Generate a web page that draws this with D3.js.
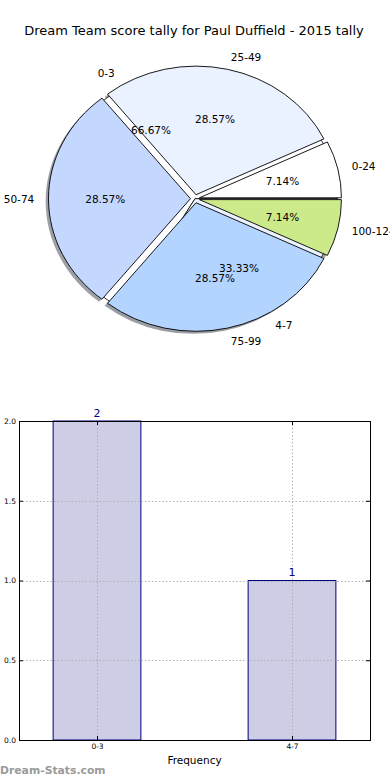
<!DOCTYPE html>
<html>
<head>
<meta charset="utf-8">
<script src="https://d3js.org/d3.v7.min.js"></script>
<style>
    body { margin: 0; background: #fff; }
    svg { display: block; font-family: "DejaVu Sans", sans-serif; }
</style>
</head>
<body>
<svg id="chart" width="390" height="780"></svg>
<script>
// ── data ──────────────────────────────────────────────────────────────
const chartTitle = 'Dream Team score tally for Paul Duffield - 2015 tally';

const scoreBands = ['0-24', '25-49', '50-74', '75-99', '100-124'];
const scoreCounts = [1, 4, 4, 4, 1];
const scoreColors = ['#ffffff', '#eaf1ff', '#c4d8ff', '#b3d4ff', '#cdea8a'];

const freqBands = ['0-3', '4-7'];
const freqCounts = [2, 1];
const freqColors = ['#ffffff', '#eaf1ff'];

const yTicks = [0, 0.5, 1.0, 1.5, 2.0];

// ── layout ────────────────────────────────────────────────────────────
const pieBox = { cx: 195, cy: 198.7, rx: 142, ry: 128.6 };
const explode = 0.032;
const barBox = { left: 19, right: 370, top: 421, bottom: 740 };

const svg = d3.select('#chart');

svg.append('text')
    .attr('x', 194)
    .attr('y', 30)
    .attr('text-anchor', 'middle')
    .attr('dominant-baseline', 'central')
    .attr('font-size', '13px')
    .attr('fill', '#000')
    .text(chartTitle);

// ── pies (elliptical, matplotlib style: ccw from east) ────────────────
const pie = d3.pie().sort(null)
    .startAngle(Math.PI / 2)
    .endAngle(Math.PI / 2 - 2 * Math.PI);
const arc = d3.arc().innerRadius(0).outerRadius(1);
const pct = d3.format('.2f');

// point on the ellipse at d3 angle a, distance d (fraction of radius)
const pt = (a, d) => [d * pieBox.rx * Math.sin(a), -d * pieBox.ry * Math.cos(a)];
const mid = s => (s.startAngle + s.endAngle) / 2;

const pieG = svg.append('g')
    .attr('transform', `translate(${pieBox.cx},${pieBox.cy})`);

const scoreArcs = pie(scoreCounts);
const freqArcs = pie(freqCounts);
const scoreTotal = d3.sum(scoreCounts);
const freqTotal = d3.sum(freqCounts);

// shadows of the exploded pie
pieG.append('g').selectAll('path')
    .data(scoreArcs)
    .join('path')
    .attr('d', arc)
    .attr('transform', (d) => {
        const [dx, dy] = pt(mid(d), explode);
        return `translate(${dx - 0.02 * pieBox.rx},${dy + 0.02 * pieBox.ry}) scale(${pieBox.rx},${pieBox.ry})`;
    })
    .attr('fill', (d, i) => {
        const c = d3.rgb(scoreColors[i]);
        return d3.rgb(c.r * 0.3, c.g * 0.3, c.b * 0.3);
    })
    .attr('fill-opacity', 0.5);

// frequency pie, underneath
pieG.append('g').selectAll('path')
    .data(freqArcs)
    .join('path')
    .attr('d', arc)
    .attr('transform', `scale(${pieBox.rx},${pieBox.ry})`)
    .attr('fill', (d, i) => freqColors[i])
    .attr('stroke', '#000')
    .attr('stroke-width', 0.8)
    .attr('vector-effect', 'non-scaling-stroke');

// score pie, exploded
pieG.append('g').selectAll('path')
    .data(scoreArcs)
    .join('path')
    .attr('d', arc)
    .attr('transform', (d) => {
        const [dx, dy] = pt(mid(d), explode);
        return `translate(${dx},${dy}) scale(${pieBox.rx},${pieBox.ry})`;
    })
    .attr('fill', (d, i) => scoreColors[i])
    .attr('stroke', '#000')
    .attr('stroke-width', 0.9)
    .attr('stroke-linejoin', 'round')
    .attr('vector-effect', 'non-scaling-stroke');

function pieLabels(arcs, names, total, labelDist, pctDist) {
    const g = pieG.append('g')
        .attr('font-size', '10.5px')
        .attr('fill', '#000');

    g.selectAll('text.name')
        .data(arcs)
        .join('text')
        .attr('class', 'name')
        .attr('x', d => pt(mid(d), labelDist)[0])
        .attr('y', d => pt(mid(d), labelDist)[1])
        .attr('text-anchor', d => pt(mid(d), 1)[0] > 0 ? 'start' : 'end')
        .attr('dominant-baseline', 'central')
        .text((d, i) => names[i]);

    g.selectAll('text.pct')
        .data(arcs)
        .join('text')
        .attr('class', 'pct')
        .attr('x', d => pt(mid(d), pctDist)[0])
        .attr('y', d => pt(mid(d), pctDist)[1])
        .attr('text-anchor', 'middle')
        .attr('dominant-baseline', 'central')
        .text(d => pct(d.value / total * 100) + '%');
}

pieLabels(scoreArcs, scoreBands, scoreTotal, 1.1 + explode, 0.6 + explode);
pieLabels(freqArcs, freqBands, freqTotal, 1.13, 0.62);

// ── bar chart ─────────────────────────────────────────────────────────
const bx = d3.scaleLinear().domain([-0.4, 1.4]).range([barBox.left, barBox.right]);
const by = d3.scaleLinear().domain([0, 2]).range([barBox.bottom, barBox.top]);
const barWidth = 0.45;

const barG = svg.append('g');

barG.append('g').selectAll('rect')
    .data(freqCounts)
    .join('rect')
    .attr('x', (d, i) => bx(i - barWidth / 2))
    .attr('y', d => by(d))
    .attr('width', bx(barWidth) - bx(0))
    .attr('height', d => by(0) - by(d))
    .attr('fill', '#cdcde5')
    .attr('stroke', '#000080')
    .attr('stroke-width', 1);

// dotted grid on top of bars
const grid = barG.append('g')
    .attr('stroke', '#b0b0b0')
    .attr('stroke-width', 1)
    .attr('stroke-dasharray', '1.5,2');

grid.selectAll('line.h')
    .data(yTicks)
    .join('line')
    .attr('class', 'h')
    .attr('x1', barBox.left)
    .attr('x2', barBox.right)
    .attr('y1', d => Math.round(by(d)) + 0.5)
    .attr('y2', d => Math.round(by(d)) + 0.5);

grid.selectAll('line.v')
    .data(freqBands)
    .join('line')
    .attr('class', 'v')
    .attr('x1', (d, i) => Math.round(bx(i)) + 0.5)
    .attr('x2', (d, i) => Math.round(bx(i)) + 0.5)
    .attr('y1', barBox.top)
    .attr('y2', barBox.bottom);

// value labels
barG.append('g').selectAll('text')
    .data(freqCounts)
    .join('text')
    .attr('x', (d, i) => bx(i))
    .attr('y', d => by(d) - 4.5)
    .attr('text-anchor', 'middle')
    .attr('font-size', '11px')
    .attr('fill', '#000080')
    .text(d => d);

// axes with inward ticks
const yAxis = d3.axisLeft(by)
    .tickValues(yTicks)
    .tickFormat(d3.format('.1f'))
    .tickSizeInner(-4)
    .tickSizeOuter(0)
    .tickPadding(3);

const xAxis = d3.axisBottom(bx)
    .tickValues([0, 1])
    .tickFormat((d, i) => freqBands[i])
    .tickSizeInner(-4)
    .tickSizeOuter(0)
    .tickPadding(4);

const styleAxis = (g) => {
    g.select('.domain').remove();
    g.selectAll('text').attr('font-size', '7.5px').attr('fill', '#000').attr('font-family', '"DejaVu Sans", sans-serif');
    g.selectAll('line').attr('stroke', '#000');
};

barG.append('g')
    .attr('transform', `translate(${barBox.left},0)`)
    .call(yAxis)
    .call(styleAxis);

barG.append('g')
    .attr('transform', `translate(0,${barBox.bottom})`)
    .call(xAxis)
    .call(styleAxis);

barG.append('g')
    .attr('transform', `translate(${barBox.right},0)`)
    .call(d3.axisRight(by).tickValues(yTicks).tickFormat('').tickSizeInner(-4).tickSizeOuter(0))
    .call(styleAxis);

barG.append('g')
    .attr('transform', `translate(0,${barBox.top})`)
    .call(d3.axisTop(bx).tickValues([0, 1]).tickFormat('').tickSizeInner(-4).tickSizeOuter(0))
    .call(styleAxis);

// frame
barG.append('rect')
    .attr('x', barBox.left + 0.5)
    .attr('y', barBox.top + 0.5)
    .attr('width', barBox.right - barBox.left)
    .attr('height', barBox.bottom - barBox.top)
    .attr('fill', 'none')
    .attr('stroke', '#000')
    .attr('stroke-width', 1);

svg.append('text')
    .attr('x', (barBox.left + barBox.right) / 2)
    .attr('y', 764)
    .attr('text-anchor', 'middle')
    .attr('font-size', '10.5px')
    .attr('fill', '#000')
    .text('Frequency');

svg.append('text')
    .attr('x', 0)
    .attr('y', 774)
    .attr('font-size', '10.8px')
    .attr('font-weight', 'bold')
    .attr('fill', '#9a9a9a')
    .text('Dream-Stats.com');
</script>
</body>
</html>
